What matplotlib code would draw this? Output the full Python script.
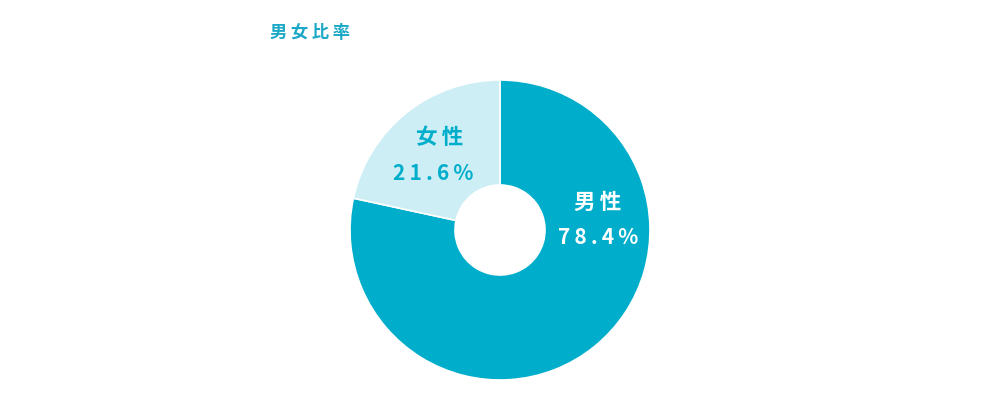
import matplotlib.pyplot as plt

# データ
labels = ['男性', '女性']
values = [78.4, 21.6]
colors = ['#00aecb', '#cdeef4']
text_colors = ['white', '#00aecb']
title = '男女比率'

plt.rcParams['font.family'] = ['Noto Sans CJK JP', 'DejaVu Sans']

fig = plt.figure(figsize=(10, 4.2), dpi=100)
ax = fig.add_axes([0, 0, 1, 1])

# ドーナツ
ax.pie(values, colors=colors, startangle=90, counterclock=False,
       center=(500, 190), radius=150,
       wedgeprops=dict(width=105, edgecolor='white', linewidth=1.2))

# pie() が軸範囲を上書きするので後で設定
ax.set_xlim(0, 1000)
ax.set_ylim(0, 420)
ax.set_aspect('equal')
ax.axis('off')

def spaced(s):
    return '\u2009'.join(s)

# ラベル位置 (ピクセル)
label_pos = [(598, 218), (440, 282)]
value_pos = [(598, 182), (433, 246)]
for i in range(len(labels)):
    ax.text(label_pos[i][0], label_pos[i][1], spaced(labels[i]), color=text_colors[i],
            fontsize=15.5, fontweight='bold', ha='center', va='center')
    ax.text(value_pos[i][0], value_pos[i][1], spaced(f'{values[i]:.1f}%'), color=text_colors[i],
            fontsize=15, fontweight='bold', ha='center', va='center')

ax.text(270, 387, spaced(title), color='#1aa8c6', fontsize=12.5, fontweight='bold',
        ha='left', va='center')

fig.savefig('out.png', dpi=100)
